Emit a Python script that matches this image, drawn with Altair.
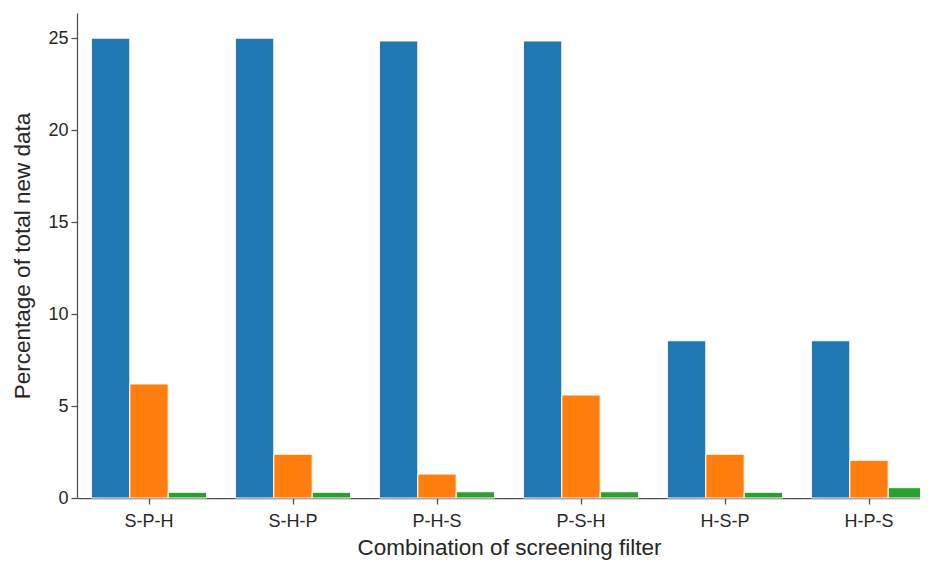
import altair as alt
import pandas as pd

categories = ["S-P-H", "S-H-P", "P-H-S", "P-S-H", "H-S-P", "H-P-S"]
series_names = ["Series 1", "Series 2", "Series 3"]
series1 = [25.0, 25.0, 24.85, 24.85, 8.55, 8.55]
series2 = [6.2, 2.38, 1.3, 5.6, 2.38, 2.05]
series3 = [0.31, 0.31, 0.34, 0.34, 0.31, 0.56]
colors = ["#1f77b4", "#ff7f0e", "#2ca02c"]

rows = []
for name, vals in zip(series_names, [series1, series2, series3]):
    for c, v in zip(categories, vals):
        rows.append({"combo": c, "series": name, "value": v})
df = pd.DataFrame(rows)

font = "Liberation Sans"
axis_col = "#4d4d4d"
text_col = "#262626"

chart = alt.Chart(df).mark_bar(stroke="white", strokeWidth=1).encode(
    x=alt.X("combo:N", sort=categories,
            scale=alt.Scale(range=[0, 864], paddingInner=0.2, paddingOuter=0.1),
            axis=alt.Axis(title="Combination of screening filter", labelAngle=0,
                          labelFontSize=18, titleFontSize=22.5,
                          labelBaseline="alphabetic", labelPadding=22.5,
                          titleY=56, titleBaseline="alphabetic",
                          tickSize=6, tickWidth=1.25, domainWidth=1.25,
                          domainColor=axis_col, tickColor=axis_col,
                          labelColor=text_col, titleColor=text_col,
                          titleFontWeight="normal", labelFont=font, titleFont=font)),
    xOffset=alt.XOffset("series:N", sort=series_names),
    y=alt.Y("value:Q",
            scale=alt.Scale(domain=[0, 26.37], nice=False),
            axis=alt.Axis(title="Percentage of total new data", values=[0, 5, 10, 15, 20, 25],
                          labelFontSize=18, titleFontSize=22.5, labelPadding=3,
                          titleX=-55, titleBaseline="middle",
                          tickSize=6, tickWidth=1.25, domainWidth=1.25, grid=False,
                          domainColor=axis_col, tickColor=axis_col,
                          labelColor=text_col, titleColor=text_col,
                          titleFontWeight="normal", labelFont=font, titleFont=font)),
    color=alt.Color("series:N", sort=series_names,
                    scale=alt.Scale(domain=series_names, range=colors), legend=None),
).properties(
    width=843, height=485,
    autosize=alt.AutoSizeParams(type="none"),
    padding={"left": 69, "top": 5, "right": 0, "bottom": 62},
).configure_view(stroke=None)

chart.save("out.html", embed_options={"renderer": "svg", "actions": False})
